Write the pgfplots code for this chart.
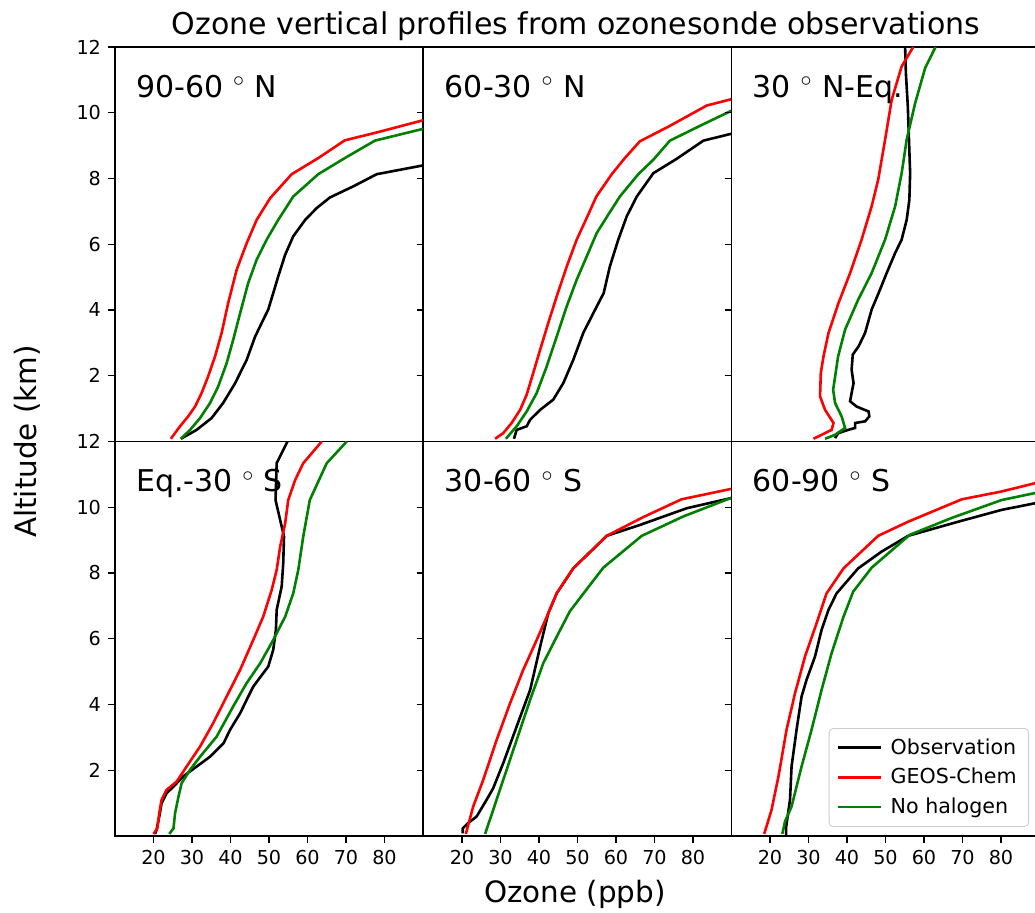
\documentclass[border=0pt]{standalone}
\usepackage{fontspec}
\setmainfont{DejaVu Sans}
\usepackage{pgfplots}
\pgfplotsset{compat=1.18}
\definecolor{mplgreen}{RGB}{0,128,0}
\pgfplotsset{
  panel/.style={
    scale only axis, width=154pt, height=197.2pt,
    xmin=10, xmax=90, ymin=0, ymax=12,
    ytick={2,4,...,12}, xtick={20,30,...,80},
    tick align=outside, ytick pos=left, xtick pos=bottom,
    major tick length=3.5pt,
    tick style={black, line width=0.65pt},
    axis line style={line width=0.65pt},
    ticklabel style={font=\fontsize{9.6}{10}\selectfont},
    /pgf/number format/assume math mode=true,
    anchor=north west,
  },
  toprow/.style={xtick=\empty},
  inner/.style={yticklabels={}},
  obs/.style={black, line width=1.3pt},
  gc/.style={red, line width=1.3pt},
  nh/.style={mplgreen, line width=1.3pt},
}
\newcommand{\plab}[1]{\node[anchor=base west, font=\fontsize{15}{15}\selectfont, inner sep=0pt] at (rel axis cs:0.068,0.873) {#1};}
\begin{document}
\begin{tikzpicture}
\useasboundingbox (0,0) rectangle (517.5pt,-456.5pt);
\node[font=\fontsize{15}{15}\selectfont, anchor=base, inner sep=0pt] at (288pt,-17.5pt) {Ozone vertical profiles from ozonesonde observations};
\node[font=\fontsize{14.7}{15}\selectfont, anchor=base, inner sep=0pt] at (287.5pt,-451.3pt) {Ozone (ppb)};
\node[font=\fontsize{14.7}{15}\selectfont, anchor=base, rotate=90, inner sep=0pt] at (18.5pt,-220.75pt) {Altitude (km)};

% Panel 1: 90-60N
\begin{axis}[panel, toprow, at={(57.5pt,-23.5pt)}]
\addplot[obs] coordinates {(27.1,0.08)(31.2,0.35)(35.1,0.71)(38.1,1.17)(41.2,1.77)(44.2,2.48)(46.4,3.19)(48.5,3.70)(49.8,4.01)(51.1,4.51)(52.4,5.02)(54.2,5.68)(56.3,6.24)(59.4,6.74)(62.4,7.10)(65.8,7.42)(71.9,7.76)(78.0,8.13)(89.7,8.39)(95,8.5)};
\addplot[gc] coordinates {(24.5,0.08)(26.9,0.46)(29.0,0.76)(30.8,1.06)(32.5,1.47)(34.2,1.98)(36.0,2.59)(37.7,3.30)(39.4,4.21)(41.6,5.22)(44.2,6.03)(46.8,6.74)(50.3,7.40)(55.9,8.13)(62.8,8.62)(69.7,9.16)(78.0,9.40)(89.7,9.76)(95,9.9)};
\addplot[nh] coordinates {(27.1,0.08)(29.5,0.35)(32.1,0.71)(34.7,1.17)(36.8,1.67)(39.0,2.38)(40.7,3.09)(42.5,3.90)(44.6,4.82)(46.8,5.53)(49.4,6.14)(52.4,6.74)(56.3,7.45)(62.8,8.13)(69.7,8.62)(77.5,9.15)(89.7,9.50)(95,9.65)};
\plab{90-60 $^{\circ}$ N}
\end{axis}

% Panel 2: 60-30N
\begin{axis}[panel, toprow, inner, at={(211.75pt,-23.5pt)}]
\addplot[obs] coordinates {(33.5,0.08)(34.2,0.35)(36.8,0.46)(37.7,0.66)(40.3,0.96)(43.7,1.27)(46.3,1.77)(48.9,2.48)(51.5,3.30)(54.1,3.90)(56.8,4.51)(58.4,5.32)(60.6,6.14)(62.8,6.85)(65.4,7.45)(69.7,8.16)(75.8,8.60)(82.7,9.15)(89.6,9.35)(95,9.45)};
\addplot[gc] coordinates {(28.6,0.08)(30.7,0.25)(32.9,0.56)(35.1,0.96)(36.8,1.42)(38.5,2.08)(40.3,2.79)(42.4,3.60)(44.6,4.41)(47.2,5.32)(49.8,6.14)(52.4,6.80)(54.9,7.45)(58.9,8.13)(62.3,8.62)(66.2,9.13)(74.0,9.60)(83.6,10.22)(89.6,10.40)(95,10.55)};
\addplot[nh] coordinates {(31.4,0.08)(34.2,0.46)(36.8,0.91)(39.4,1.47)(42.0,2.28)(44.6,3.19)(47.2,4.11)(49.8,4.92)(52.4,5.63)(55.0,6.34)(58.0,6.90)(61.0,7.45)(65.8,8.13)(69.7,8.57)(74.0,9.15)(81.8,9.60)(89.6,10.04)(95,10.3)};
\plab{60-30 $^{\circ}$ N}
\end{axis}

% Panel 3: 30N-Eq.
\begin{axis}[panel, toprow, inner, at={(365.75pt,-23.5pt)}]
\addplot[obs] coordinates {(36.9,0.10)(37.7,0.25)(40.3,0.35)(42.1,0.41)(42.1,0.56)(44.7,0.61)(45.8,0.76)(45.6,0.91)(42.5,1.06)(40.8,1.22)(41.2,1.47)(41.7,1.77)(41.2,2.18)(41.5,2.64)(43.0,2.89)(44.7,3.30)(46.4,4.01)(48.2,4.51)(50.3,5.12)(52.5,5.73)(54.2,6.14)(55.5,6.74)(56.2,7.35)(56.4,8.16)(56.1,9.18)(55.8,10.19)(55.3,11.2)(55.1,12.0)};
\addplot[gc] coordinates {(31.3,0.08)(33.4,0.20)(36.0,0.35)(36.5,0.56)(34.3,0.96)(33.0,1.37)(33.2,2.08)(33.9,2.59)(35.2,3.30)(37.8,4.21)(40.8,5.12)(43.8,6.14)(46.4,7.15)(48.1,7.96)(49.9,9.18)(51.6,10.39)(54.2,11.41)(57.2,12.0)};
\addplot[nh] coordinates {(34.3,0.08)(36.9,0.20)(39.5,0.41)(38.6,0.76)(36.9,1.17)(36.4,1.57)(37.7,2.59)(39.5,3.40)(42.9,4.31)(46.4,5.12)(49.9,6.14)(52.5,7.15)(54.2,8.16)(55.5,9.18)(57.7,10.29)(60.3,11.36)(63.0,12.0)};
\plab{30 $^{\circ}$ N-Eq.}
\end{axis}

% Panel 4: Eq.-30S
\begin{axis}[panel, at={(57.5pt,-220.75pt)}]
\addplot[obs] coordinates {(20.4,0.06)(20.8,0.18)(21.5,0.59)(22.1,0.99)(23.4,1.30)(25.2,1.50)(27.7,1.81)(31.2,2.11)(34.7,2.41)(38.2,2.82)(39.9,3.23)(42.5,3.73)(44.2,4.14)(45.9,4.54)(48.5,4.95)(49.8,5.15)(51.1,5.66)(51.8,6.27)(52.0,6.88)(53.3,7.59)(53.7,8.30)(53.9,9.11)(53.3,9.41)(51.7,10.22)(52.0,11.34)(54.8,12.0)};
\addplot[gc] coordinates {(20.0,0.06)(21.0,0.23)(21.5,0.69)(22.1,1.10)(23.4,1.40)(26.0,1.65)(28.6,2.11)(32.1,2.72)(35.5,3.43)(39.0,4.24)(42.5,5.05)(45.9,5.96)(48.5,6.67)(50.7,7.48)(52.0,8.09)(52.9,8.80)(54.2,9.51)(55.0,10.22)(56.8,10.83)(58.9,11.34)(63.7,12.0)};
\addplot[nh] coordinates {(24.1,0.06)(25.2,0.23)(25.6,0.69)(26.5,1.20)(27.3,1.60)(29.5,2.01)(32.1,2.41)(36.4,3.02)(40.7,3.94)(44.2,4.65)(47.7,5.25)(51.1,5.96)(54.2,6.67)(56.3,7.38)(57.6,8.09)(58.9,9.11)(60.6,10.22)(65.0,11.34)(70.2,12.0)};
\plab{Eq.-30 $^{\circ}$ S}
\end{axis}

% Panel 5: 30-60S
\begin{axis}[panel, inner, at={(211.75pt,-220.75pt)}]
\addplot[obs] coordinates {(20.2,0.08)(20.2,0.23)(21.6,0.39)(23.8,0.59)(26.4,1.10)(28.1,1.45)(30.7,2.21)(34.2,3.33)(37.7,4.44)(40.3,5.76)(42.4,6.77)(44.6,7.38)(48.9,8.14)(57.6,9.13)(66.2,9.46)(78.4,9.97)(89.6,10.27)(95,10.4)};
\addplot[gc] coordinates {(21.0,0.06)(22.9,0.89)(25.5,1.70)(29.0,2.92)(32.5,4.04)(35.9,5.05)(39.4,5.96)(42.4,6.77)(44.6,7.38)(48.9,8.14)(57.6,9.13)(67.1,9.70)(77.0,10.24)(89.6,10.55)(95,10.7)};
\addplot[nh] coordinates {(26.0,0.06)(28.1,0.79)(30.7,1.70)(34.2,2.92)(37.7,4.14)(41.1,5.25)(44.6,6.06)(48.0,6.83)(51.9,7.43)(56.7,8.16)(66.7,9.13)(77.5,9.72)(89.6,10.27)(95,10.45)};
\plab{30-60 $^{\circ}$ S}
\end{axis}

% Panel 6: 60-90S
\begin{axis}[panel, inner, at={(365.75pt,-220.75pt)},
  legend cell align=left,
  legend image code/.code={\draw[#1] (0pt,0pt) -- (21.5pt,0pt);},
  legend style={at={(rel axis cs:0.966,0.023)}, anchor=south east,
    font=\fontsize{10.3}{12}\selectfont, draw=black!20, rounded corners=2pt,
    fill=white, fill opacity=0.8, text opacity=1,
    row sep=1.5pt, inner xsep=4pt, inner ysep=3pt,
    /tikz/every odd column/.append style={column sep=2pt}}]
\addplot[obs] coordinates {(24.2,0.03)(24.2,0.28)(25.2,1.10)(25.6,2.11)(26.9,3.23)(28.2,4.24)(29.5,4.75)(31.7,5.46)(33.4,6.27)(35.2,6.88)(37.3,7.38)(42.9,8.14)(49.0,8.65)(55.9,9.13)(68.9,9.56)(80.2,9.92)(88.8,10.12)(95,10.25)};
\addlegendentry{Observation}
\addplot[gc] coordinates {(18.5,0.06)(20.4,0.79)(22.2,1.81)(24.3,3.23)(26.5,4.34)(29.1,5.46)(32.1,6.47)(34.7,7.38)(39.1,8.14)(48.1,9.13)(55.9,9.56)(69.8,10.24)(80.2,10.48)(88.8,10.73)(95,10.85)};
\addlegendentry{GEOS-Chem}
\addplot[nh] coordinates {(23.2,0.06)(23.9,0.44)(25.6,0.89)(28.2,2.11)(30.8,3.23)(33.4,4.44)(36.0,5.56)(39.1,6.67)(41.6,7.43)(46.4,8.16)(56.3,9.16)(67.1,9.67)(80.2,10.22)(88.8,10.43)(95,10.55)};
\addlegendentry{No halogen}
\plab{60-90 $^{\circ}$ S}
\end{axis}
\end{tikzpicture}
\end{document}
